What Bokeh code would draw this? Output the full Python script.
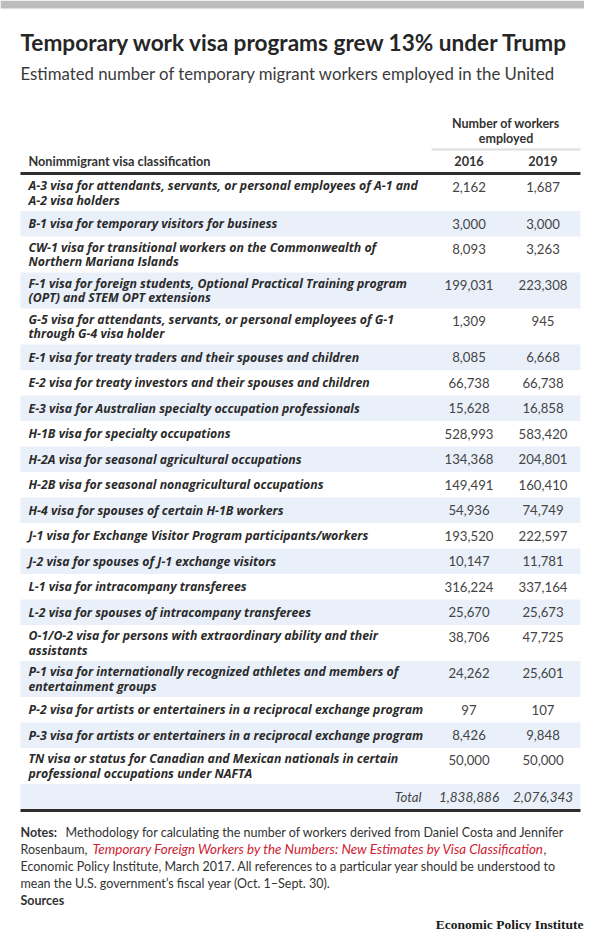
from bokeh.plotting import figure
from bokeh.models import ColumnDataSource, Range1d
from bokeh.core.properties import value
from bokeh.embed import file_html
from bokeh.resources import INLINE

# ---------------- data ----------------
title = "Temporary work visa programs grew 13% under Trump"
subtitle_lines = ["Estimated number of temporary migrant workers employed in the United",
                  "States, 2016 and 2019"]
col_group_header = ["Number of workers", "employed"]
row_header = "Nonimmigrant visa classification"
years = ["2016", "2019"]

visa_labels = [
    ["A-3 visa for attendants, servants, or personal employees of A-1 and", "A-2 visa holders"],
    ["B-1 visa for temporary visitors for business"],
    ["CW-1 visa for transitional workers on the Commonwealth of", "Northern Mariana Islands"],
    ["F-1 visa for foreign students, Optional Practical Training program", "(OPT) and STEM OPT extensions"],
    ["G-5 visa for attendants, servants, or personal employees of G-1", "through G-4 visa holder"],
    ["E-1 visa for treaty traders and their spouses and children"],
    ["E-2 visa for treaty investors and their spouses and children"],
    ["E-3 visa for Australian specialty occupation professionals"],
    ["H-1B visa for specialty occupations"],
    ["H-2A visa for seasonal agricultural occupations"],
    ["H-2B visa for seasonal nonagricultural occupations"],
    ["H-4 visa for spouses of certain H-1B workers"],
    ["J-1 visa for Exchange Visitor Program participants/workers"],
    ["J-2 visa for spouses of J-1 exchange visitors"],
    ["L-1 visa for intracompany transferees"],
    ["L-2  visa for spouses of intracompany transferees"],
    ["O-1/O-2 visa for persons with extraordinary ability and their", "assistants"],
    ["P-1 visa for internationally recognized athletes and members of", "entertainment groups"],
    ["P-2 visa for artists or entertainers in a reciprocal exchange program"],
    ["P-3 visa for artists or entertainers in a reciprocal exchange program"],
    ["TN visa or status for Canadian and Mexican nationals in certain", "professional occupations under NAFTA"],
]
workers_2016 = [2162, 3000, 8093, 199031, 1309, 8085, 66738, 15628, 528993, 134368, 149491,
                54936, 193520, 10147, 316224, 25670, 38706, 24262, 97, 8426, 50000]
workers_2019 = [1687, 3000, 3263, 223308, 945, 6668, 66738, 16858, 583420, 204801, 160410,
                74749, 222597, 11781, 337164, 25673, 47725, 25601, 107, 9848, 50000]
total_label = "Total"
total_2016 = 1838886
total_2019 = 2076343

notes_bold = "Notes:"
notes_line1 = "Methodology for calculating the number of workers derived from Daniel Costa and Jennifer"
notes_line2_a = "Rosenbaum, "
notes_link = "Temporary Foreign Workers by the Numbers: New Estimates by Visa Classification"
notes_line2_b = ","
notes_line3 = "Economic Policy Institute, March 2017. All references to a particular year should be understood to"
notes_line4 = "mean the U.S. government\u2019s fiscal year (Oct. 1\u2013Sept. 30)."
sources_label = "Sources"
brand = "Economic Policy Institute"

# ---------------- style / layout ----------------
FONT = "Lato"
LABEL_FONT = "Open Sans"
TXT = "#333333"
SHADE = "#e9f0fa"
RED = "#cf2030"
X_LEFT, X_RIGHT = 20, 580
LABEL_X = 28
COL_X = [468.5, 542.5]
TABLE_TOP = 174.5
SINGLE_H, DOUBLE_H, LINE_GAP = 25.5, 36, 14.8

p = figure(width=584, height=930, output_backend="svg", toolbar_location=None,
           x_range=Range1d(0, 584), y_range=Range1d(930, 0),
           min_border=0, outline_line_color=None, background_fill_color="white")
p.axis.visible = False
p.grid.visible = False


def txt(x, y, s, size, style="normal", color=TXT, align="left", font=FONT, baseline="middle"):
    src = ColumnDataSource(dict(x=[x] if not isinstance(x, list) else x,
                                y=[y] if not isinstance(y, list) else y,
                                t=[s] if not isinstance(s, list) else s))
    p.text(x="x", y="y", text="t", source=src, text_font=value(font), text_font_size=size,
           text_font_style=style, text_color=color, text_align=align, text_baseline=baseline)


# top bar
p.quad(left=[0], right=[584], top=[0], bottom=[8], fill_color="#bdbdbd", line_color=None)

# title & subtitle
txt(20, 42, title, "22.6px", "bold", "#262626")
txt(20, [73, 93], subtitle_lines, "16.8px", "normal", "#3a3a3a")

# column headers
mid = (COL_X[0] + COL_X[1]) / 2
txt([mid, mid], [123, 137.5], col_group_header, "12.5px", "bold", TXT, "center")
p.segment(x0=[431], y0=[149], x1=[X_RIGHT], y1=[149], line_color="#dddddd", line_width=2)
txt(LABEL_X, 160, row_header, "12.7px", "bold")
txt(COL_X, [160, 160], years, "12.7px", "bold", TXT, "center")
p.segment(x0=[X_LEFT], y0=[173], x1=[X_RIGHT], y1=[173], line_color="#2e2e2e", line_width=3)

# rows
rows = visa_labels + [[total_label]]
v16 = workers_2016 + [total_2016]
v19 = workers_2019 + [total_2019]
shade_top, shade_bot = [], []
lab_x, lab_y, lab_t = [], [], []
num_y = []
y = TABLE_TOP
for i, lines in enumerate(rows):
    h = SINGLE_H if len(lines) == 1 else DOUBLE_H
    c = y + h / 2
    if i % 2 == 1:
        shade_top.append(y)
        shade_bot.append(y + h)
    n = len(lines)
    ys = [c + (k - (n - 1) / 2) * LINE_GAP for k in range(n)]
    if i < len(visa_labels):
        for ly, lt in zip(ys, lines):
            lab_x.append(LABEL_X)
            lab_y.append(ly)
            lab_t.append(lt)
    num_y.append(ys[0] + (1.5 if n > 1 else 0))
    y += h
table_bottom = y

p.quad(left=X_LEFT, right=X_RIGHT, top=shade_top, bottom=shade_bot, fill_color=SHADE, line_color=None)
txt(lab_x, lab_y, lab_t, "12.3px", "bold italic", "#2b2b2b", font=LABEL_FONT)

nb = len(visa_labels)
txt([COL_X[0]] * nb, num_y[:nb], [f"{v:,}" for v in v16[:nb]], "13.2px", "normal", "#444444", "center")
txt([COL_X[1]] * nb, num_y[:nb], [f"{v:,}" for v in v19[:nb]], "13.2px", "normal", "#444444", "center")
ty = num_y[-1]
txt(421, ty, total_label, "13.2px", "italic", "#444444", "right")
txt(COL_X, [ty, ty], [f"{v16[-1]:,}", f"{v19[-1]:,}"], "13.5px", "italic", "#444444", "center")
p.segment(x0=[X_LEFT], y0=[table_bottom + 1], x1=[X_RIGHT], y1=[table_bottom + 1],
          line_color="#2e2e2e", line_width=3)

# notes
NS = "12.5px"
NY = [831.5, 848.5, 865.5, 882.5]
txt(20, NY[0], notes_bold, NS, "bold")
txt(65, NY[0], notes_line1, NS)
txt(20, NY[1], notes_line2_a, NS)
txt(92, NY[1], notes_link, "13.4px", "italic", RED)
txt(543, NY[1], notes_line2_b, NS)
txt(20, NY[2], notes_line3, NS)
txt(20, NY[3], notes_line4, NS)
txt(20, 900, sources_label, NS, "bold")
txt(583, 923.5, brand, "13.5px", "bold", "#1a1a1a", "right", font="Liberation Serif")

open("out.html", "w").write(file_html(p, INLINE))
